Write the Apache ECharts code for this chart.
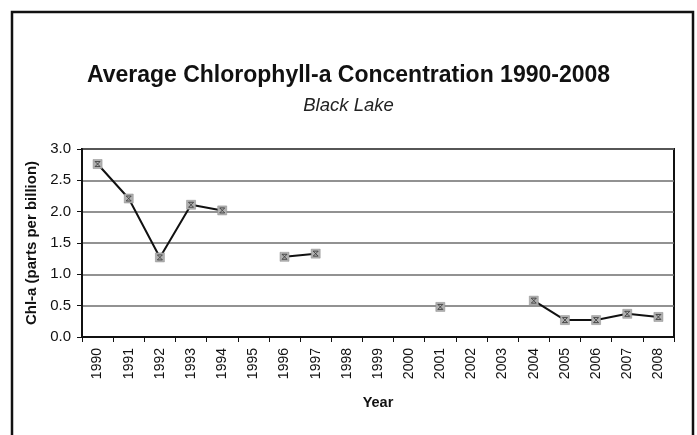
<!DOCTYPE html>
<html>
<head>
<meta charset="utf-8">
<script src="https://cdn.jsdelivr.net/npm/echarts@6/dist/echarts.min.js"></script>
<style>
html,body{margin:0;padding:0;background:#fff;}
#chart{width:697px;height:435px;}
</style>
</head>
<body>
<div id="chart"></div>
<script>
const years = ['1990','1991','1992','1993','1994','1995','1996','1997','1998','1999','2000','2001','2002','2003','2004','2005','2006','2007','2008'];
const chla = [2.76, 2.21, 1.27, 2.11, 2.02, null, 1.28, 1.33, null, null, null, 0.48, null, null, 0.58, 0.27, 0.27, 0.37, 0.32];
const yTicks = [0, 0.5, 1.0, 1.5, 2.0, 2.5, 3.0];

const chart = echarts.init(document.getElementById('chart'), null, {renderer: 'canvas'});
const font = 'Liberation Sans, Arial, sans-serif';
chart.setOption({
  animation: false,
  backgroundColor: '#fff',
  graphic: [{
    type: 'rect', z: 100, silent: true,
    shape: {x: 12, y: 12, width: 681, height: 440},
    style: {fill: 'none', stroke: '#111', lineWidth: 2.5}
  }],
  title: [{
    text: 'Average Chlorophyll-a Concentration 1990-2008',
    left: 'center', top: 59,
    textStyle: {fontFamily: font, fontWeight: 'bold', fontSize: 23, color: '#111'}
  }, {
    text: 'Black Lake',
    left: 'center', top: 91,
    textStyle: {fontFamily: font, fontStyle: 'italic', fontWeight: 'normal', fontSize: 18.5, color: '#222'}
  }],
  grid: {left: 82, top: 149, width: 592, height: 188, show: true, borderColor: '#111', borderWidth: 2, backgroundColor: 'transparent'},
  xAxis: {
    type: 'category', data: years, boundaryGap: true,
    name: 'Year', nameLocation: 'middle', nameGap: 58,
    nameTextStyle: {fontFamily: font, fontWeight: 'bold', fontSize: 14.5, color: '#111'},
    axisLine: {lineStyle: {color: '#111', width: 2}},
    axisTick: {show: true, inside: false, length: 5, alignWithLabel: false, lineStyle: {color: '#111', width: 1}},
    axisLabel: {rotate: 90, fontFamily: font, fontSize: 14, color: '#111', margin: 11, interval: 0},
    splitLine: {show: false}
  },
  yAxis: {
    type: 'value', min: 0, max: 3, interval: 0.5,
    name: 'Chl-a (parts per billion)', nameLocation: 'middle', nameGap: 41,
    nameTextStyle: {fontFamily: font, fontWeight: 'bold', fontSize: 15, color: '#111'},
    axisLine: {show: true, lineStyle: {color: '#111', width: 2}},
    axisTick: {show: true, inside: false, length: 5, lineStyle: {color: '#111'}},
    axisLabel: {fontFamily: font, fontSize: 15, color: '#111', margin: 11,
      formatter: v => yTicks.indexOf(v) >= 0 ? v.toFixed(1) : ''},
    splitLine: {show: true, lineStyle: {color: '#6e6e6e', width: 1.5}}
  },
  series: [{
    type: 'line', data: chla, connectNulls: false,
    lineStyle: {color: '#111', width: 2},
    symbol: 'rect', symbolSize: 9, showAllSymbol: true,
    itemStyle: {color: '#b0b0b0', borderColor: '#8a8a8a', borderWidth: 0.5},
    z: 3
  }, {
    type: 'scatter', data: chla,
    symbol: 'path://M0,0 L10,0 M0,10 L10,10 M0,0 L10,10 M10,0 L0,10',
    symbolSize: 5,
    itemStyle: {color: 'none', borderColor: '#333', borderWidth: 1},
    z: 4
  }]
});
</script>
</body>
</html>
